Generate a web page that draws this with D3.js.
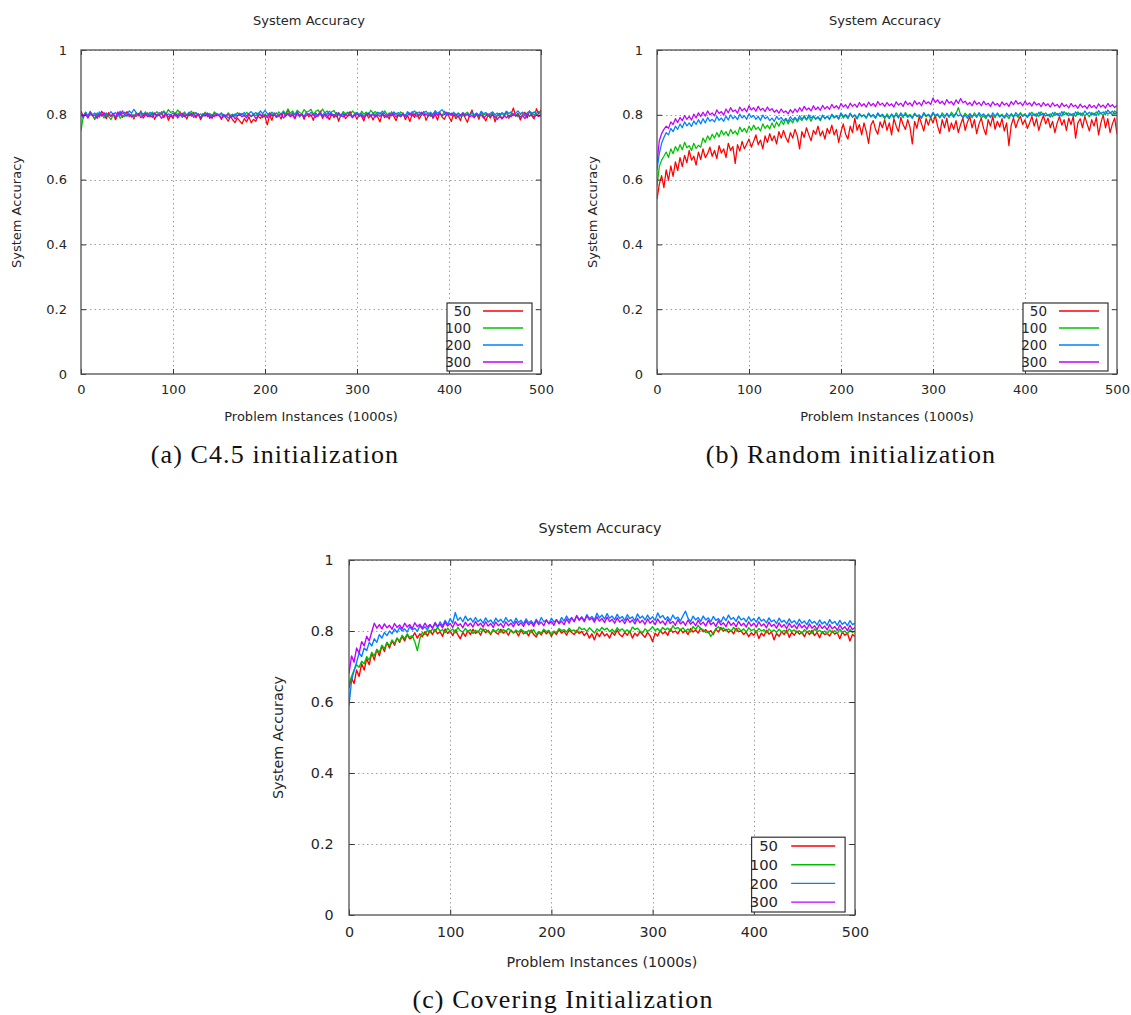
<!DOCTYPE html>
<html><head><meta charset="utf-8">
<script src="https://cdn.jsdelivr.net/npm/d3@7"></script>
<style>body{margin:0;background:#fff}svg{display:block}</style>
</head><body>
<svg id="chart" width="1131" height="1015"></svg>
<script>
// ---------- data ----------
const seriesNames = ["50", "100", "200", "300"];
const seriesColors = ["#ff0000", "#00c000", "#0080ff", "#c000ff"];
const xTicks = [0, 100, 200, 300, 400, 500];
const xTickLabels = ["0", "100", "200", "300", "400", "500"];
const yTicks = [0, 0.2, 0.4, 0.6, 0.8, 1];
const yTickLabels = ["0", "0.2", "0.4", "0.6", "0.8", "1"];
const xStep = 2.5; // problem instances (1000s) between samples

// (a) C4.5 initialization
const c45_50 = [
.812,.795,.806,.790,.809,.798,.786,.804,.793,.811,
.800,.788,.807,.795,.803,.785,.799,.808,.792,.801,
.810,.794,.802,.787,.805,.797,.812,.790,.799,.806,
.793,.808,.786,.801,.797,.809,.791,.804,.783,.798,
.789,.806,.795,.810,.792,.800,.787,.805,.796,.808,
.791,.803,.785,.799,.807,.794,.801,.789,.806,.797,
.802,.786,.798,.791,.780,.795,.784,.776,.790,.781,
.772,.788,.778,.794,.775,.786,.780,.796,.789,.801,
.794,.769,.799,.783,.806,.792,.800,.787,.809,.795,
.817,.796,.805,.788,.810,.798,.803,.786,.808,.794,
.800,.783,.806,.795,.812,.789,.802,.797,.785,.804,
.791,.807,.780,.799,.805,.788,.797,.810,.792,.801,
.786,.803,.795,.781,.807,.790,.799,.784,.802,.793,
.778,.805,.791,.800,.787,.809,.795,.782,.801,.794,
.806,.785,.798,.779,.803,.792,.808,.787,.799,.810,
.783,.797,.805,.789,.801,.784,.808,.793,.786,.802,
.795,.779,.804,.788,.797,.782,.806,.791,.777,.800,
.815,.792,.803,.786,.809,.795,.781,.800,.790,.806,
.778,.798,.804,.787,.795,.810,.789,.802,.821,.796,
.805,.784,.799,.808,.790,.812,.797,.787,.819,.803,
.815];
const c45_100 = [
.750,.796,.808,.793,.804,.799,.788,.806,.797,.802,
.790,.803,.795,.785,.800,.792,.806,.789,.798,.794,
.804,.796,.801,.791,.807,.798,.803,.795,.809,.800,
.796,.808,.801,.810,.799,.806,.812,.803,.816,.807,
.811,.802,.815,.806,.800,.809,.797,.805,.811,.799,
.806,.798,.803,.795,.808,.800,.804,.796,.809,.801,
.797,.805,.800,.793,.806,.798,.802,.795,.807,.799,
.804,.796,.808,.800,.794,.803,.797,.806,.799,.791,
.802,.796,.807,.799,.804,.795,.809,.801,.812,.803,
.818,.805,.812,.800,.814,.807,.803,.816,.808,.811,
.817,.802,.810,.815,.804,.818,.806,.812,.800,.809,
.813,.801,.807,.797,.810,.803,.808,.798,.812,.804,
.806,.797,.811,.802,.808,.799,.814,.805,.810,.801,
.807,.798,.812,.803,.796,.808,.800,.805,.797,.809,
.803,.795,.806,.799,.810,.801,.807,.797,.804,.808,
.799,.806,.795,.803,.809,.800,.806,.797,.811,.802,
.807,.798,.804,.794,.806,.800,.796,.803,.808,.799,
.805,.797,.802,.794,.807,.799,.803,.795,.800,.806,
.792,.800,.796,.804,.798,.806,.791,.801,.797,.803,
.794,.800,.806,.797,.803,.795,.808,.799,.804,.796,
.801];
const c45_200 = [
.803,.790,.808,.797,.811,.800,.806,.794,.809,.802,
.797,.806,.799,.810,.801,.807,.795,.811,.803,.808,
.800,.812,.805,.817,.807,.798,.810,.802,.806,.795,
.808,.799,.804,.794,.807,.801,.809,.797,.803,.799,
.806,.796,.803,.799,.795,.805,.800,.808,.797,.802,
.807,.798,.792,.804,.799,.806,.795,.801,.797,.804,
.799,.806,.793,.800,.790,.798,.794,.803,.797,.805,
.800,.807,.796,.804,.810,.801,.807,.799,.812,.803,
.814,.804,.797,.808,.801,.806,.796,.803,.808,.799,
.805,.797,.806,.800,.809,.793,.802,.797,.806,.800,
.808,.799,.805,.796,.803,.799,.807,.801,.811,.803,
.797,.806,.800,.795,.805,.798,.807,.800,.794,.803,
.808,.799,.804,.795,.802,.806,.797,.805,.800,.808,
.802,.811,.804,.797,.806,.799,.809,.802,.807,.800,
.804,.798,.810,.801,.806,.812,.803,.809,.800,.806,
.811,.802,.808,.800,.813,.805,.810,.816,.806,.800,
.806,.799,.808,.801,.804,.796,.807,.800,.803,.797,
.808,.800,.806,.798,.811,.803,.807,.799,.805,.809,
.800,.806,.798,.807,.801,.811,.804,.809,.800,.806,
.812,.803,.808,.799,.806,.811,.802,.809,.804,.810,
.805];
const c45_300 = [
.805,.795,.802,.791,.806,.797,.800,.789,.803,.796,
.807,.794,.801,.796,.804,.792,.809,.798,.812,.800,
.796,.803,.793,.800,.795,.804,.791,.799,.803,.794,
.800,.792,.806,.797,.801,.789,.798,.804,.793,.800,
.795,.803,.790,.799,.805,.794,.800,.797,.804,.792,
.798,.802,.791,.800,.796,.804,.789,.798,.794,.802,
.797,.790,.801,.795,.803,.792,.799,.787,.796,.801,
.794,.799,.790,.803,.795,.800,.788,.797,.802,.793,
.799,.791,.804,.796,.800,.792,.798,.803,.790,.797,
.802,.794,.799,.789,.805,.797,.801,.793,.798,.803,
.796,.802,.792,.800,.806,.795,.799,.790,.803,.797,
.801,.794,.806,.798,.793,.802,.796,.800,.791,.799,
.803,.795,.800,.790,.798,.804,.796,.801,.793,.800,
.795,.803,.798,.792,.801,.797,.804,.793,.799,.795,
.801,.794,.798,.806,.797,.802,.795,.800,.808,.798,
.803,.796,.800,.794,.806,.799,.804,.797,.801,.808,
.799,.805,.796,.801,.793,.799,.804,.796,.801,.794,
.798,.791,.802,.796,.800,.790,.797,.803,.795,.799,
.792,.786,.794,.789,.797,.791,.799,.794,.803,.796,
.800,.793,.798,.788,.803,.796,.801,.792,.799,.795,
.798];

// (b) Random initialization
const rnd_50 = [
.540,.585,.612,.575,.630,.598,.642,.610,.655,.628,
.668,.640,.675,.652,.690,.660,.672,.645,.685,.662,
.695,.668,.680,.700,.672,.690,.665,.705,.682,.695,
.668,.712,.690,.702,.650,.708,.688,.718,.695,.710,
.725,.700,.718,.738,.708,.722,.695,.735,.715,.742,
.720,.735,.710,.748,.728,.752,.730,.715,.745,.728,
.755,.735,.695,.748,.730,.760,.738,.720,.752,.740,
.765,.735,.750,.725,.758,.742,.768,.738,.755,.715,
.748,.772,.740,.725,.765,.745,.790,.752,.770,.738,
.775,.748,.712,.768,.782,.755,.740,.778,.760,.785,
.752,.775,.738,.788,.765,.748,.792,.770,.755,.785,
.762,.710,.780,.758,.795,.772,.750,.788,.768,.792,
.775,.798,.765,.742,.785,.760,.790,.748,.775,.755,
.782,.745,.770,.790,.752,.778,.795,.760,.785,.742,
.772,.790,.758,.738,.785,.765,.795,.755,.780,.762,
.788,.750,.775,.705,.768,.790,.760,.782,.795,.770,
.785,.758,.775,.795,.765,.788,.752,.778,.798,.772,
.790,.760,.780,.745,.775,.795,.768,.785,.752,.790,
.770,.795,.728,.775,.788,.760,.795,.772,.750,.785,
.765,.792,.738,.775,.800,.760,.788,.745,.772,.790,
.740];
const rnd_100 = [
.580,.640,.660,.672,.685,.668,.695,.680,.702,.688,
.708,.692,.715,.698,.705,.690,.712,.696,.706,.700,
.728,.715,.735,.722,.740,.728,.745,.732,.752,.738,
.748,.735,.755,.742,.750,.738,.762,.748,.758,.745,
.765,.752,.768,.755,.762,.750,.772,.758,.768,.756,
.775,.760,.778,.765,.782,.770,.788,.772,.785,.775,
.792,.778,.790,.782,.798,.785,.794,.780,.796,.788,
.792,.782,.798,.787,.795,.785,.800,.790,.796,.786,
.802,.790,.798,.788,.804,.792,.799,.787,.803,.794,
.800,.790,.805,.793,.799,.789,.804,.794,.798,.788,
.803,.793,.800,.790,.806,.795,.801,.791,.807,.796,
.801,.792,.805,.795,.799,.789,.803,.794,.800,.790,
.804,.795,.800,.790,.806,.797,.802,.792,.808,.798,
.803,.822,.800,.793,.805,.796,.801,.791,.806,.797,
.801,.790,.797,.788,.803,.794,.800,.791,.806,.796,
.802,.791,.798,.788,.804,.795,.800,.792,.807,.797,
.803,.794,.799,.808,.797,.804,.795,.809,.800,.806,
.797,.803,.794,.808,.799,.805,.796,.810,.801,.806,
.798,.804,.795,.809,.800,.806,.797,.803,.794,.807,
.800,.809,.801,.806,.797,.811,.802,.808,.799,.812,
.805];
const rnd_200 = [
.630,.680,.712,.730,.745,.738,.758,.748,.765,.755,
.772,.760,.778,.766,.775,.764,.781,.770,.785,.772,
.788,.775,.792,.780,.786,.778,.795,.783,.790,.780,
.796,.784,.800,.788,.795,.785,.802,.790,.797,.786,
.803,.792,.798,.786,.795,.783,.799,.788,.794,.782,
.790,.780,.795,.785,.792,.781,.789,.779,.794,.784,
.791,.782,.797,.787,.793,.784,.800,.790,.796,.786,
.794,.785,.799,.789,.796,.787,.802,.792,.798,.789,
.806,.795,.801,.791,.805,.794,.800,.789,.804,.796,
.799,.790,.805,.795,.801,.791,.806,.796,.802,.793,
.797,.788,.803,.794,.800,.790,.806,.797,.801,.792,
.798,.789,.804,.795,.800,.791,.807,.797,.802,.794,
.808,.797,.803,.793,.800,.790,.805,.796,.801,.792,
.806,.796,.801,.791,.799,.789,.804,.795,.800,.792,
.807,.797,.803,.794,.800,.791,.806,.797,.802,.793,
.799,.790,.805,.796,.801,.792,.807,.798,.803,.795,
.800,.792,.806,.797,.803,.794,.808,.799,.804,.796,
.801,.793,.807,.798,.804,.795,.810,.800,.806,.797,
.803,.795,.809,.800,.806,.797,.812,.802,.808,.799,
.805,.797,.813,.803,.809,.800,.815,.805,.811,.802,
.808];
const rnd_300 = [
.650,.720,.742,.755,.765,.758,.778,.770,.788,.776,
.792,.782,.798,.786,.795,.784,.802,.790,.806,.795,
.808,.796,.812,.800,.806,.797,.815,.804,.810,.799,
.818,.806,.822,.810,.815,.805,.824,.812,.820,.809,
.828,.815,.822,.811,.826,.814,.820,.810,.824,.813,
.819,.808,.815,.805,.818,.807,.812,.803,.816,.806,
.818,.808,.822,.811,.826,.815,.821,.812,.828,.816,
.824,.814,.829,.818,.826,.817,.832,.821,.828,.818,
.835,.824,.831,.820,.836,.826,.833,.823,.838,.827,
.834,.824,.839,.828,.835,.825,.841,.830,.836,.826,
.838,.828,.834,.824,.840,.830,.836,.826,.842,.831,
.837,.827,.843,.832,.838,.828,.845,.834,.840,.832,
.852,.838,.846,.835,.842,.831,.847,.836,.841,.830,
.846,.835,.850,.837,.842,.831,.838,.828,.843,.832,
.838,.828,.842,.831,.836,.826,.840,.830,.835,.825,
.840,.830,.836,.826,.841,.831,.844,.833,.838,.828,
.842,.831,.837,.827,.840,.830,.835,.825,.838,.828,
.834,.824,.837,.827,.832,.822,.836,.826,.831,.821,
.835,.825,.830,.820,.833,.823,.828,.819,.832,.822,
.829,.820,.834,.824,.830,.821,.835,.825,.831,.822,
.830];

// (c) Covering initialization
const cov_50 = [
.640,.668,.652,.690,.672,.708,.690,.722,.705,.738,
.718,.748,.730,.758,.742,.768,.752,.772,.760,.780,
.768,.785,.772,.790,.778,.782,.795,.780,.792,.784,
.798,.786,.802,.790,.805,.792,.798,.785,.806,.793,
.800,.787,.803,.790,.778,.796,.785,.801,.790,.805,
.793,.800,.788,.806,.795,.802,.790,.804,.796,.791,
.805,.794,.800,.788,.803,.795,.799,.786,.802,.792,
.798,.786,.803,.790,.783,.797,.789,.802,.792,.799,
.785,.798,.790,.804,.794,.800,.788,.803,.796,.790,
.802,.793,.799,.787,.796,.780,.792,.775,.795,.784,
.798,.786,.792,.780,.797,.788,.803,.790,.784,.796,
.788,.800,.780,.794,.786,.798,.790,.782,.796,.787,
.770,.794,.786,.802,.792,.798,.788,.806,.796,.800,
.792,.805,.795,.801,.790,.807,.797,.803,.794,.808,
.798,.804,.795,.801,.790,.806,.797,.810,.800,.805,
.796,.802,.792,.807,.798,.800,.790,.797,.784,.795,
.788,.800,.779,.794,.786,.802,.791,.797,.775,.793,
.785,.798,.790,.803,.782,.796,.788,.800,.791,.797,
.784,.799,.790,.802,.787,.796,.781,.798,.790,.793,
.786,.800,.791,.795,.778,.797,.788,.794,.772,.790,
.785];
const cov_100 = [
.650,.672,.690,.705,.698,.715,.708,.728,.718,.740,
.730,.748,.740,.760,.750,.768,.758,.775,.765,.780,
.772,.788,.778,.792,.782,.787,.770,.745,.778,.796,
.790,.802,.795,.806,.798,.810,.800,.804,.795,.808,
.799,.806,.795,.810,.801,.797,.807,.799,.804,.793,
.802,.796,.808,.800,.805,.797,.793,.804,.798,.806,
.796,.804,.799,.807,.800,.794,.803,.797,.805,.799,
.793,.802,.796,.804,.790,.799,.794,.805,.798,.802,
.789,.800,.795,.807,.801,.804,.797,.808,.800,.803,
.796,.811,.804,.807,.799,.809,.802,.794,.806,.800,
.810,.803,.808,.798,.805,.796,.809,.801,.806,.798,
.803,.795,.811,.804,.808,.800,.794,.806,.799,.804,
.812,.801,.807,.798,.810,.803,.808,.799,.815,.806,
.810,.802,.809,.800,.806,.797,.813,.804,.816,.807,
.803,.796,.799,.785,.794,.806,.812,.803,.809,.800,
.806,.799,.810,.802,.808,.800,.806,.797,.809,.801,
.805,.797,.807,.800,.804,.795,.806,.798,.803,.796,
.805,.797,.802,.794,.806,.799,.803,.795,.801,.793,
.804,.797,.801,.793,.806,.798,.802,.794,.800,.792,
.803,.796,.801,.793,.805,.797,.800,.792,.804,.796,
.800];
const cov_200 = [
.590,.660,.688,.712,.738,.728,.752,.745,.768,.758,
.778,.768,.790,.780,.796,.787,.800,.792,.806,.796,
.810,.800,.806,.797,.812,.803,.808,.799,.815,.805,
.812,.803,.818,.808,.820,.810,.826,.814,.830,.818,
.835,.822,.852,.830,.838,.826,.842,.829,.836,.825,
.838,.826,.833,.822,.837,.825,.831,.820,.836,.826,
.833,.823,.838,.826,.832,.821,.836,.824,.830,.820,
.834,.823,.829,.819,.833,.822,.838,.826,.831,.821,
.836,.825,.832,.822,.838,.828,.842,.830,.837,.827,
.844,.832,.840,.829,.846,.835,.841,.831,.850,.837,
.845,.834,.849,.836,.842,.832,.847,.835,.841,.830,
.846,.835,.840,.829,.848,.836,.842,.831,.845,.833,
.840,.830,.851,.837,.844,.832,.840,.829,.845,.834,
.839,.828,.843,.856,.836,.826,.842,.831,.838,.827,
.842,.831,.837,.826,.841,.830,.835,.825,.840,.829,
.845,.833,.838,.827,.842,.831,.836,.826,.840,.828,
.835,.825,.839,.828,.833,.823,.837,.826,.831,.821,
.836,.825,.830,.820,.834,.823,.829,.819,.833,.822,
.828,.818,.832,.822,.827,.817,.831,.820,.826,.816,
.832,.821,.827,.816,.830,.819,.825,.815,.829,.818,
.822];
const cov_300 = [
.680,.730,.712,.752,.738,.770,.758,.785,.772,.798,
.822,.808,.818,.806,.820,.809,.816,.805,.821,.810,
.817,.806,.822,.811,.818,.807,.823,.812,.819,.808,
.822,.811,.818,.808,.824,.813,.819,.809,.825,.814,
.821,.810,.826,.815,.820,.809,.825,.814,.822,.811,
.827,.815,.822,.811,.826,.814,.821,.810,.825,.815,
.821,.810,.826,.815,.822,.812,.827,.816,.823,.813,
.828,.817,.824,.813,.829,.818,.825,.815,.831,.820,
.827,.816,.832,.820,.828,.818,.834,.822,.838,.826,
.842,.830,.838,.826,.843,.831,.836,.825,.840,.828,
.835,.824,.839,.827,.833,.822,.837,.825,.832,.821,
.836,.824,.831,.820,.835,.823,.830,.819,.834,.822,
.829,.818,.834,.822,.828,.817,.833,.821,.827,.816,
.832,.820,.827,.816,.831,.819,.826,.815,.830,.818,
.825,.814,.830,.818,.824,.813,.829,.817,.823,.812,
.828,.816,.823,.812,.827,.815,.822,.811,.826,.814,
.822,.811,.826,.814,.820,.809,.825,.813,.819,.808,
.823,.811,.818,.807,.822,.810,.817,.806,.821,.809,
.816,.805,.820,.808,.815,.804,.819,.807,.814,.803,
.818,.806,.813,.802,.817,.805,.812,.801,.816,.804,
.810];

// ---------- layout ----------
const panels = [
  {left: 81, right: 541, top: 50, bottom: 374, k: 1, series: [c45_50, c45_100, c45_200, c45_300],
   caption: "(a) C4.5 initialization", capX: 275, capY: 463},
  {left: 657, right: 1117, top: 50, bottom: 374, k: 1, series: [rnd_50, rnd_100, rnd_200, rnd_300],
   caption: "(b) Random initialization", capX: 851, capY: 463},
  {left: 349, right: 855, top: 560, bottom: 915, k: 1.1, series: [cov_50, cov_100, cov_200, cov_300],
   caption: "(c) Covering Initialization", capX: 563, capY: 1008}
];

const svg = d3.select("#chart");
const sans = "DejaVu Sans, sans-serif";
const textCol = "#262626";

panels.forEach((p, pi) => {
  const k = p.k;
  const x = d3.scaleLinear().domain([0, 500]).range([p.left, p.right]);
  const y = d3.scaleLinear().domain([0, 1]).range([p.bottom, p.top]);
  const g = svg.append("g");
  const fs = 13 * k;

  // grid
  const grid = g.append("g").attr("stroke", "#a0a0a0").attr("stroke-width", 1).attr("stroke-dasharray", "1.5,3");
  grid.selectAll("line.gx").data(xTicks.slice(1, -1)).join("line")
    .attr("x1", d => Math.round(x(d)) + 0.5).attr("x2", d => Math.round(x(d)) + 0.5)
    .attr("y1", p.top).attr("y2", p.bottom);
  grid.selectAll("line.gy").data(yTicks.slice(1)).join("line")
    .attr("y1", d => Math.round(y(d)) + 0.5).attr("y2", d => Math.round(y(d)) + 0.5)
    .attr("x1", p.left).attr("x2", p.right);

  // clip
  const clipId = "clip" + pi;
  svg.append("clipPath").attr("id", clipId).append("rect")
    .attr("x", p.left).attr("y", p.top).attr("width", p.right - p.left).attr("height", p.bottom - p.top);

  // lines
  const line = d3.line().x((d, i) => x(i * xStep)).y(d => y(d));
  const lg = g.append("g").attr("clip-path", `url(#${clipId})`);
  p.series.forEach((s, si) => {
    lg.append("path").datum(s).attr("d", line)
      .attr("fill", "none").attr("stroke", seriesColors[si]).attr("stroke-width", 1.25 * k)
      .attr("stroke-linejoin", "round");
  });

  // axes (ticks inward, mirrored)
  const tl = 5 * k;
  const axB = g.append("g").attr("transform", `translate(0,${p.bottom})`)
    .call(d3.axisBottom(x).tickValues(xTicks).tickSize(-tl).tickPadding(11 * k)
      .tickFormat((d, i) => xTickLabels[i]));
  const axT = g.append("g").attr("transform", `translate(0,${p.top})`)
    .call(d3.axisTop(x).tickValues(xTicks).tickSize(-tl).tickFormat(""));
  const axL = g.append("g").attr("transform", `translate(${p.left},0)`)
    .call(d3.axisLeft(y).tickValues(yTicks).tickSize(-tl).tickPadding(14 * k)
      .tickFormat((d, i) => yTickLabels[i]));
  const axR = g.append("g").attr("transform", `translate(${p.right},0)`)
    .call(d3.axisRight(y).tickValues(yTicks).tickSize(-tl).tickFormat(""));
  [axB, axT, axL, axR].forEach(a => {
    a.select(".domain").remove();
    a.selectAll(".tick line").attr("stroke", "#333");
    a.selectAll(".tick text").attr("fill", textCol).style("font-family", sans).style("font-size", fs + "px");
  });

  // border
  g.append("rect").attr("x", p.left).attr("y", p.top)
    .attr("width", p.right - p.left).attr("height", p.bottom - p.top)
    .attr("fill", "none").attr("stroke", "#505050").attr("stroke-width", 1.3);

  // title & labels
  const cx = (p.left + p.right) / 2;
  g.append("text").attr("x", cx - 2).attr("y", p.top - 25 * k).attr("text-anchor", "middle")
    .attr("fill", textCol).style("font-family", sans).style("font-size", fs + "px").text("System Accuracy");
  g.append("text").attr("x", cx).attr("y", p.bottom + 47 * k).attr("text-anchor", "middle")
    .attr("fill", textCol).style("font-family", sans).style("font-size", fs + "px").text("Problem Instances (1000s)");
  const cy = (p.top + p.bottom) / 2;
  g.append("text").attr("transform", `translate(${p.left - 60 * k},${cy}) rotate(-90)`).attr("text-anchor", "middle")
    .attr("fill", textCol).style("font-family", sans).style("font-size", fs + "px").text("System Accuracy");

  // legend
  const bw = 85 * k, bh = 68 * k;
  const bx = p.right - 9 * k - bw, by = p.bottom - 3 - bh;
  const leg = g.append("g");
  leg.append("rect").attr("x", bx).attr("y", by).attr("width", bw).attr("height", bh)
    .attr("fill", "#fff").attr("stroke", "#333").attr("stroke-width", 1.2);
  seriesNames.forEach((n, si) => {
    const ry = by + (8 + 17 * si) * k;
    leg.append("text").attr("x", bx + 24 * k).attr("y", ry).attr("dy", "0.36em").attr("text-anchor", "end")
      .attr("fill", textCol).style("font-family", sans).style("font-size", (fs + 0.5) + "px").text(n);
    leg.append("line").attr("x1", bx + 36 * k).attr("x2", bx + 76 * k).attr("y1", ry).attr("y2", ry)
      .attr("stroke", seriesColors[si]).attr("stroke-width", 1.3 * k);
  });

  // caption
  svg.append("text").attr("x", p.capX).attr("y", p.capY).attr("text-anchor", "middle")
    .attr("fill", "#111").style("font-family", "Liberation Serif, serif").style("font-size", "26px")
    .style("letter-spacing", "1.1px").text(p.caption);
});
</script>
</body></html>
